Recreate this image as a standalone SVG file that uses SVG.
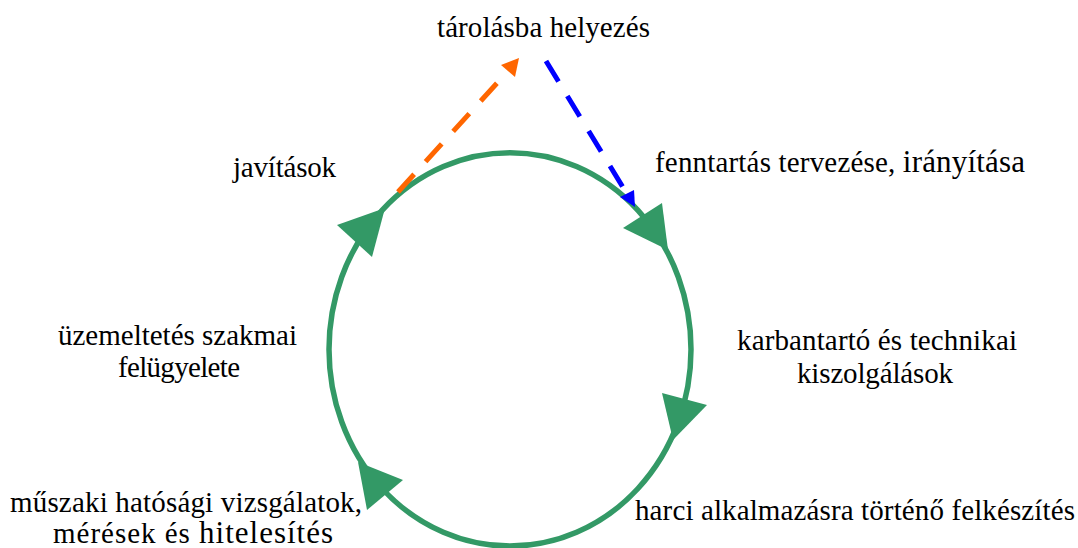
<svg xmlns="http://www.w3.org/2000/svg" width="1078" height="548" viewBox="0 0 1078 548">
<style>
text{font-family:"Liberation Serif","Times New Roman",serif;font-size:29px;fill:#000}
.big{font-size:31px}
.cyc{fill:none;stroke:#339966;stroke-width:5.5}
.ah{fill:#339966}
.dash{fill:none;stroke-width:5;stroke-dasharray:24 17}
</style>
<rect width="1078" height="548" fill="#fff"/>
<g id="connectors">
<ellipse class="cyc" cx="510" cy="349.4" rx="181" ry="196.7"/>
<polygon class="ah" points="385,208 337,225 372,257"/>
<polygon class="ah" points="668,250 623,228 662,203"/>
<polygon class="ah" points="673,440 662,393 707,405"/>
<polygon class="ah" points="358,462 403,480 367,510"/>
<line class="dash" x1="398" y1="192" x2="508" y2="71" stroke="#ff6600"/>
<polygon points="519,58 501,65 515,77" fill="#ff6600"/>
<line class="dash" x1="546" y1="61" x2="627" y2="194" stroke="#0000ff"/>
<polygon points="635,207 620,197 634,190" fill="#0000ff"/>
</g>
<g id="node-tarolas"><text x="437" y="37" textLength="213">tárolásba helyezés</text></g>
<g id="node-javitasok"><text x="233" y="177" textLength="103">javítások</text></g>
<g id="node-fenntartas"><text x="655" y="172" textLength="370">fenntartás tervezése, <tspan class="big">irányítása</tspan></text></g>
<g id="node-karbantarto"><text x="737" y="350" textLength="280">karbantartó és technikai</text><text x="797" y="383" textLength="156">kiszolgálások</text></g>
<g id="node-harci"><text x="635" y="520" textLength="440">harci alkalmazásra történő felkészítés</text></g>
<g id="node-muszaki"><text x="10" y="512" textLength="352">műszaki hatósági vizsgálatok,</text><text x="53" y="543" textLength="280">mérések és <tspan class="big">hitelesítés</tspan></text></g>
<g id="node-uzemeltetes"><text x="58" y="345" textLength="239">üzemeltetés szakmai</text><text x="118" y="377" textLength="122">felügyelete</text></g>
</svg>
